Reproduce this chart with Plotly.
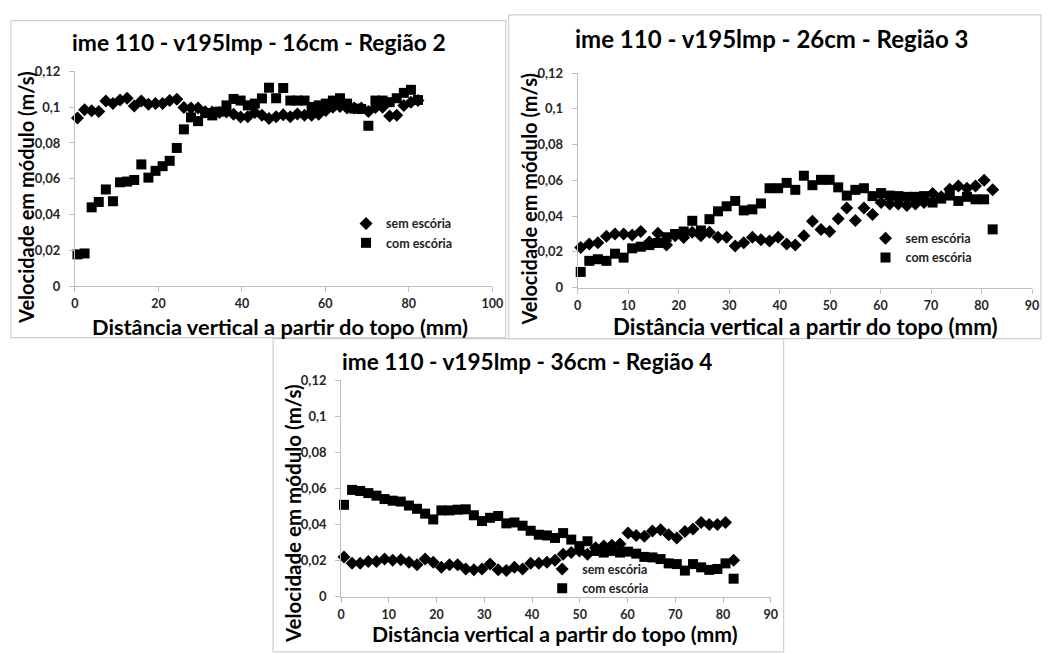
import plotly.graph_objects as go

# ---------------- data ----------------
x_mm = [0.6, 2.3, 4.0, 5.7, 7.4, 9.1, 10.8, 12.5, 14.2, 15.9, 17.6, 19.3, 21.0, 22.7,
        24.4, 26.1, 27.8, 29.5, 31.2, 32.9, 34.6, 36.3, 38.0, 39.7, 41.4, 43.1, 44.8,
        46.5, 48.2, 49.9, 51.6, 53.3, 55.0, 56.7, 58.4, 60.1, 61.8, 63.5, 65.2, 66.9,
        68.6, 70.3, 72.0, 73.7, 75.4, 77.1, 78.8, 80.5, 82.2]

r2_sem = [0.094, 0.0985, 0.098, 0.0976, 0.1035, 0.102, 0.104, 0.105, 0.1007, 0.1035,
          0.1016, 0.102, 0.102, 0.1038, 0.1044, 0.0998, 0.0995, 0.0995, 0.0975, 0.0973,
          0.097, 0.0973, 0.096, 0.0945, 0.0946, 0.097, 0.0955, 0.0937, 0.0946, 0.0958,
          0.0946, 0.0962, 0.0955, 0.0955, 0.096, 0.0982, 0.1, 0.1004, 0.0995, 0.0995,
          0.0995, 0.0976, 0.0998, 0.1, 0.095, 0.0955, 0.101, 0.1028, 0.1037]
r2_com = [0.0177, 0.0182, 0.044, 0.047, 0.054, 0.0474, 0.058, 0.0584, 0.0593, 0.068,
          0.0606, 0.0644, 0.067, 0.070, 0.0772, 0.0876, 0.0943, 0.0922, 0.0967, 0.0954,
          0.0975, 0.101, 0.1046, 0.1037, 0.101, 0.102, 0.1049, 0.1109, 0.105, 0.1107,
          0.1037, 0.1037, 0.1037, 0.1001, 0.101, 0.102, 0.1037, 0.105, 0.102, 0.0992,
          0.099, 0.0896, 0.1037, 0.1037, 0.1028, 0.105, 0.108, 0.1097, 0.104]

r3_sem = [0.0224, 0.0244, 0.0251, 0.0288, 0.030, 0.030, 0.0295, 0.0314, 0.0256, 0.0304,
          0.0238, 0.029, 0.028, 0.031, 0.029, 0.031, 0.0282, 0.0282, 0.0233, 0.0251,
          0.0282, 0.0268, 0.0261, 0.0282, 0.0244, 0.0238, 0.0291, 0.0371, 0.0326, 0.0314,
          0.0385, 0.0446, 0.0376, 0.0445, 0.0409, 0.0476, 0.0468, 0.0468, 0.0459, 0.0468,
          0.0476, 0.0526, 0.0508, 0.055, 0.0568, 0.0556, 0.0568, 0.06, 0.0547]
r3_com = [0.0088, 0.015, 0.0159, 0.015, 0.019, 0.0168, 0.022, 0.0229, 0.0238, 0.025,
          0.0282, 0.030, 0.0314, 0.0374, 0.032, 0.0383, 0.0427, 0.0455, 0.0485, 0.0432,
          0.0438, 0.0471, 0.0556, 0.0556, 0.0586, 0.0547, 0.0626, 0.0573, 0.0603, 0.0603,
          0.0561, 0.0515, 0.0547, 0.0556, 0.0512, 0.0529, 0.0515, 0.0512, 0.0508, 0.0508,
          0.0512, 0.0476, 0.0498, 0.0515, 0.0485, 0.0508, 0.0494, 0.0494, 0.0326]

r4_sem = [0.022, 0.0184, 0.0184, 0.0195, 0.0195, 0.0208, 0.0202, 0.0204, 0.019, 0.0177,
          0.0208, 0.019, 0.0162, 0.0177, 0.0177, 0.0153, 0.0148, 0.0153, 0.018, 0.0148,
          0.0144, 0.0162, 0.0153, 0.0184, 0.0184, 0.019, 0.0202, 0.0235, 0.0244, 0.0253,
          0.0235, 0.0271, 0.028, 0.0285, 0.0292, 0.0352, 0.0339, 0.0334, 0.0364, 0.037,
          0.0343, 0.0325, 0.0361, 0.0375, 0.0411, 0.04, 0.04, 0.0411, 0.0202]
r4_com = [0.0509, 0.0592, 0.0586, 0.0574, 0.056, 0.0541, 0.0532, 0.0527, 0.0505, 0.0487,
          0.046, 0.0428, 0.0478, 0.0478, 0.0482, 0.0484, 0.0451, 0.0419, 0.0437, 0.0447,
          0.0406, 0.0411, 0.0393, 0.0365, 0.0343, 0.0339, 0.0325, 0.0352, 0.0316, 0.028,
          0.0307, 0.0253, 0.0244, 0.0253, 0.0244, 0.0249, 0.0238, 0.022, 0.0217, 0.0208,
          0.0184, 0.018, 0.0144, 0.018, 0.0162, 0.0148, 0.0153, 0.0184, 0.0099]

titles = ["ime 110 - v195lmp - 16cm - Região 2",
          "ime 110 - v195lmp - 26cm - Região 3",
          "ime 110 - v195lmp - 36cm - Região 4"]
series_names = ["sem escória", "com escória"]
x_title = "Distância vertical a partir do topo (mm)"
y_title = "Velocidade em módulo (m/s)"
x_max = [100, 90, 90]
x_dtick = [20, 10, 10]

# ---------------- layout helpers ----------------
W, H = 1048, 653
FONT = "Lato"


def fx(p):
    return p / W


def fy(p):
    return 1 - p / H


# plot area pixel boxes: (x_left, x_right, y_bottom, y_top)
boxes = [(72, 495.4, 285, 65), (582, 1043, 286.7, 66.7), (342, 778, 603.3, 381.7)]
frames = [(7, 13, 509, 338), (512, 7, 1052, 339), (273, 339, 791, 660)]
title_pos = [(258.5, 35), (778.5, 31), (530.5, 362)]
title_size = [22.8, 24, 22.6]
ytitle_pos = [(23, 194), (533, 196), (294, 518)]
ytitle_size = [20, 20, 20.5]
xtitle_pos = [(280.5, 326), (813.5, 327), (559, 642)]
xtitle_size = [21.8, 22.3, 21.2]
legend_pos = [(347, 206), (874, 221), (546, 560)]

data_sets = [(r2_sem, r2_com), (r3_sem, r3_com), (r4_sem, r4_com)]

fig = go.Figure()
layout = dict(width=W, height=H, margin=dict(l=0, r=0, t=0, b=0),
              plot_bgcolor="white", paper_bgcolor="white",
              separators=",.", showlegend=True)
annotations = []
shapes = []

for k in range(3):
    sfx = "" if k == 0 else str(k + 1)
    leg = "legend" if k == 0 else "legend" + str(k + 1)
    sem, com = data_sets[k]
    fig.add_trace(go.Scatter(x=x_mm, y=sem, mode="markers", name=series_names[0],
                             xaxis="x" + sfx, yaxis="y" + sfx, legend=leg, cliponaxis=False,
                             marker=dict(symbol="diamond", size=10, color="black")))
    fig.add_trace(go.Scatter(x=x_mm, y=com, mode="markers", name=series_names[1],
                             xaxis="x" + sfx, yaxis="y" + sfx, legend=leg, cliponaxis=False,
                             marker=dict(symbol="square", size=10, color="black")))
    xl, xr, yb, yt = boxes[k]
    ytickfont = dict(family=FONT, size=13, color="#262626", weight="bold")
    xtickfont = dict(family=FONT, size=12.5, color="#262626", weight="bold")
    layout["xaxis" + sfx] = dict(domain=[fx(xl), fx(xr)], range=[0, x_max[k]],
                                 anchor="y" + sfx, dtick=x_dtick[k], tick0=0,
                                 showline=True, linecolor="#bfbfbf", ticks="outside",
                                 ticklen=5, tickcolor="#bfbfbf", showgrid=False,
                                 zeroline=False, tickfont=xtickfont, ticklabelstandoff=1)
    layout["yaxis" + sfx] = dict(domain=[fy(yb), fy(yt)], range=[0, 0.12],
                                 anchor="x" + sfx, dtick=0.02, tick0=0,
                                 showline=True, linecolor="#bfbfbf", ticks="outside",
                                 ticklen=5, tickcolor="#bfbfbf", showgrid=False,
                                 zeroline=False, tickfont=ytickfont, ticklabelstandoff=6)
    lx, ly = legend_pos[k]
    layout[leg] = dict(x=fx(lx), y=fy(ly), xanchor="left", yanchor="top",
                       bgcolor="rgba(0,0,0,0)", itemwidth=30, tracegroupgap=0,
                       font=dict(family=FONT, size=12.5, color="#222222", weight="bold"))
    fx0, fy0, fx1, fy1 = frames[k]
    shapes.append(dict(type="rect", xref="paper", yref="paper",
                       x0=fx(fx0), x1=fx(fx1), y0=fy(fy1), y1=fy(fy0),
                       line=dict(color="#cfcfcf", width=1.2), fillcolor="rgba(0,0,0,0)",
                       layer="below"))
    tx, ty = title_pos[k]
    annotations.append(dict(text=titles[k], x=fx(tx), y=fy(ty), xref="paper", yref="paper",
                            showarrow=False, xanchor="center", yanchor="middle",
                            font=dict(family=FONT, size=title_size[k], color="black",
                                      weight="bold")))
    ax_, ay_ = ytitle_pos[k]
    annotations.append(dict(text=y_title, x=fx(ax_), y=fy(ay_), xref="paper", yref="paper",
                            showarrow=False, textangle=-90, xanchor="center",
                            yanchor="middle",
                            font=dict(family=FONT, size=ytitle_size[k], color="black",
                                      weight="bold")))
    bx, by = xtitle_pos[k]
    annotations.append(dict(text=x_title, x=fx(bx), y=fy(by), xref="paper", yref="paper",
                            showarrow=False, xanchor="center", yanchor="middle",
                            font=dict(family=FONT, size=xtitle_size[k], color="black",
                                      weight="bold")))

layout["annotations"] = annotations
layout["shapes"] = shapes
fig.update_layout(**layout)
fig.write_html("out.html", config={"displayModeBar": False},
               post_script="document.body.style.margin='0';document.body.style.overflow='hidden';")
